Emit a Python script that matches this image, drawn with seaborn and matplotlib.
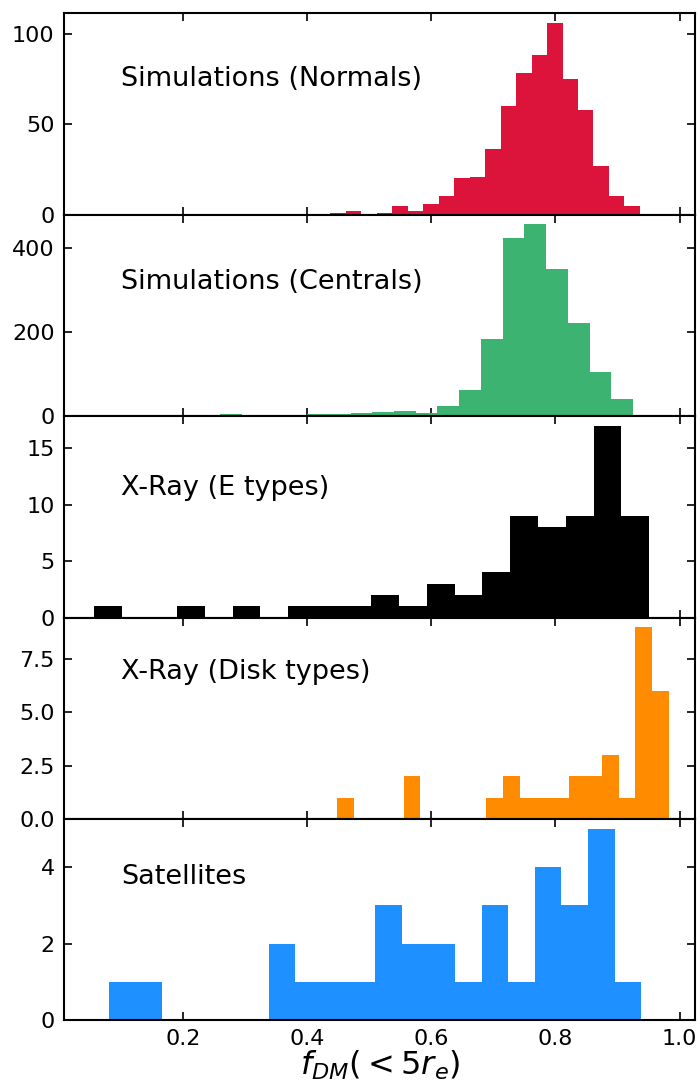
import numpy as np
import pandas as pd
import matplotlib
matplotlib.use("Agg")
import matplotlib.pyplot as plt
import seaborn as sns

# ---- data (counts per bin) ----
labels = ["Simulations (Normals)", "Simulations (Centrals)", "X-Ray (E types)",
          "X-Ray (Disk types)", "Satellites"]
colors = ["#DC143C", "#3CB371", "#000000", "#FF8C00", "#1E90FF"]

normals_range = (0.4376, 0.936)
normals_counts = [1, 2, 0, 1, 5, 2, 6, 10, 20, 21, 36, 60, 78, 88, 106, 75, 58, 27, 10, 5]

centrals_range = (0.26, 0.925)
centrals_counts = [4, 0, 0, 0, 4, 4, 7, 10, 12, 7, 23, 61, 183, 425, 458, 350, 223, 106, 41]

etypes_range = (0.0563, 0.9508)
etypes_counts = [1, 0, 0, 1, 0, 1, 0, 1, 1, 1, 2, 1, 3, 2, 4, 9, 8, 9, 17, 9]

disk_range = (0.4488, 0.9823)
disk_counts = [1, 0, 0, 0, 2, 0, 0, 0, 0, 1, 2, 1, 1, 1, 2, 2, 3, 1, 9, 6]

sat_range = (0.0806, 0.9383)
sat_counts = [1, 1, 0, 0, 0, 0, 2, 1, 1, 1, 3, 2, 2, 1, 3, 1, 4, 3, 5, 1]

yticks = [[0, 50, 100], [0, 200, 400], [0, 5, 10, 15], [0, 2.5, 5.0, 7.5], [0, 2, 4]]
yticklabels = [["0", "50", "100"], ["0", "200", "400"], ["0", "5", "10", "15"],
               ["0.0", "2.5", "5.0", "7.5"], ["0", "2", "4"]]
xticks = [0.2, 0.4, 0.6, 0.8, 1.0]
xticklabels = ["0.2", "0.4", "0.6", "0.8", "1.0"]
text_y = [0.672, 0.665, 0.645, 0.728, 0.712]

series = [(normals_range, normals_counts), (centrals_range, centrals_counts),
          (etypes_range, etypes_counts), (disk_range, disk_counts),
          (sat_range, sat_counts)]

sns.set_style("ticks")
plt.rcParams["font.family"] = ["DejaVu Sans"]
plt.rcParams["mathtext.fontset"] = "dejavusans"
plt.rcParams["text.color"] = "black"
plt.rcParams["axes.labelcolor"] = "black"

fig, axes = plt.subplots(5, 1, figsize=(7, 10.9), dpi=100, sharex=True)
fig.subplots_adjust(left=0.092, right=0.993, top=0.988, bottom=0.0638, hspace=0)

for i, (ax, (rng, counts)) in enumerate(zip(axes, series)):
    edges = np.linspace(rng[0], rng[1], len(counts) + 1).tolist()
    centers = [0.5 * (a + b) for a, b in zip(edges[:-1], edges[1:])]
    df = pd.DataFrame({"x": centers, "w": [float(c) for c in counts]})
    sns.histplot(data=df, x="x", weights="w", bins=edges, ax=ax,
                 color=colors[i], alpha=1, linewidth=0, element="bars", fill=True)
    ax.set_ylim(0, max(counts) * 1.05)
    ax.set_xlim(0.009, 1.025)
    ax.set_yticks(yticks[i])
    ax.set_yticklabels(yticklabels[i])
    ax.set_ylabel("")
    ax.set_xlabel("")
    ax.tick_params(axis="both", which="both", direction="in", top=True, right=True,
                   length=6, width=1.2, labelsize=16, colors="black")
    ax.tick_params(axis="y", pad=7)
    ax.tick_params(axis="x", pad=6)
    for sp in ax.spines.values():
        sp.set_visible(True)
        sp.set_linewidth(1.5)
        sp.set_color("black")
    ax.text(0.0898, text_y[i], labels[i], transform=ax.transAxes, ha="left",
            va="center", fontsize=19.5, color="black")

axes[-1].set_xticks(xticks)
axes[-1].set_xticklabels(xticklabels)
axes[-1].set_xlabel(r"$f_{DM}(<5r_e)$", fontsize=23, labelpad=0, color="black")

fig.savefig("out.png", dpi=100)
